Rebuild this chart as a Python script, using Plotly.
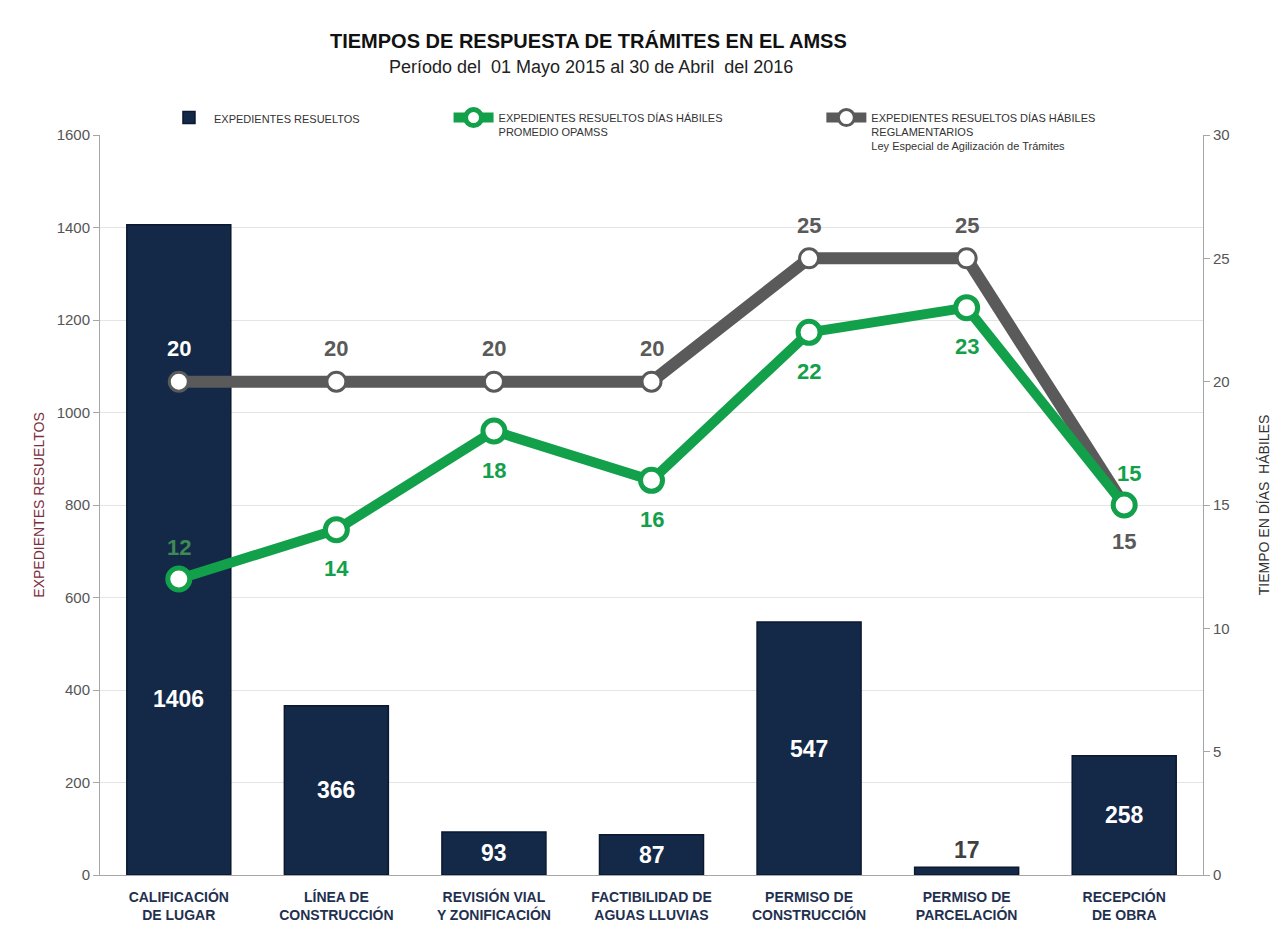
import plotly.graph_objects as go

# Data
categories = [
    "CALIFICACIÓN<br>DE LUGAR",
    "LÍNEA DE<br>CONSTRUCCIÓN",
    "REVISIÓN VIAL<br>Y ZONIFICACIÓN",
    "FACTIBILIDAD DE<br>AGUAS LLUVIAS",
    "PERMISO DE<br>CONSTRUCCIÓN",
    "PERMISO DE<br>PARCELACIÓN",
    "RECEPCIÓN<br>DE OBRA",
]
expedientes = [1406, 366, 93, 87, 547, 17, 258]
dias_opamss = [12, 14, 18, 16, 22, 23, 15]
dias_reglamentarios = [20, 20, 20, 20, 25, 25, 15]

# label placement (above = True / below = False)
opamss_above = [True, False, False, False, False, False, True]
regl_above = [True, True, True, True, True, True, False]

FONT = "Liberation Sans Narrow, Arial Narrow, Liberation Sans, Arial"
NAVY = "#142848"
GREEN = "#12A04A"
GRAY = "#5A5A5A"

fig = go.Figure()

fig.add_trace(go.Bar(
    x=categories, y=expedientes, name="EXPEDIENTES RESUELTOS",
    marker=dict(color=NAVY, line=dict(color="#0B1830", width=1.5)),
    width=0.66, legend="legend", showlegend=True,
))

fig.add_trace(go.Scatter(
    x=categories, y=dias_reglamentarios, yaxis="y2", mode="lines+markers",
    name="EXPEDIENTES RESUELTOS DÍAS HÁBILES<br>REGLAMENTARIOS<br>Ley Especial de Agilización de Trámites",
    line=dict(color=GRAY, width=12),
    marker=dict(size=19, color="white", line=dict(color=GRAY, width=3)),
    legend="legend3", showlegend=True,
))

fig.add_trace(go.Scatter(
    x=categories, y=dias_opamss, yaxis="y2", mode="lines+markers",
    name="EXPEDIENTES RESUELTOS DÍAS HÁBILES<br>PROMEDIO OPAMSS",
    line=dict(color=GREEN, width=10),
    marker=dict(size=22, color="white", line=dict(color=GREEN, width=5)),
    legend="legend2", showlegend=True,
))

annotations = []

# bar value labels
for i, (c, v) in enumerate(zip(categories, expedientes)):
    if v < 40:
        annotations.append(dict(x=c, y=v, xref="x", yref="y", text=f"<b>{v}</b>",
                                showarrow=False, yanchor="bottom", yshift=2,
                                font=dict(family=FONT, size=23, color="#404040")))
    else:
        ypos = v / 2 if v < 1000 else v * 0.27
        annotations.append(dict(x=c, y=ypos, xref="x", yref="y", text=f"<b>{v}</b>",
                                showarrow=False,
                                font=dict(family=FONT, size=23, color="white")))

# line value labels
for i, (c, v) in enumerate(zip(categories, dias_reglamentarios)):
    col = "white" if i == 0 else GRAY
    annotations.append(dict(x=c, y=v, xref="x", yref="y2", text=f"<b>{v}</b>",
                            showarrow=False, yshift=33 if regl_above[i] else -36,
                            font=dict(family=FONT, size=22, color=col)))

for i, (c, v) in enumerate(zip(categories, dias_opamss)):
    col = "#3E8A55" if i == 0 else GREEN
    annotations.append(dict(x=c, y=v, xref="x", yref="y2", text=f"<b>{v}</b>",
                            showarrow=False, yshift=32 if opamss_above[i] else -39,
                            xshift=5 if i == len(categories) - 1 else 0,
                            font=dict(family=FONT, size=22, color=col)))

# titles
annotations.append(dict(x=0.443, y=1.145, xref="paper", yref="paper",
                        text="<b>TIEMPOS DE RESPUESTA DE TRÁMITES EN EL AMSS</b>",
                        showarrow=False, font=dict(family=FONT, size=20, color="#111111")))
annotations.append(dict(x=0.445, y=1.108, xref="paper", yref="paper",
                        text="Período del  01 Mayo 2015 al 30 de Abril  del 2016",
                        showarrow=False, font=dict(family=FONT, size=18, color="#222222")))

legend_base = dict(orientation="h", xanchor="left", yanchor="top", valign="top",
                   bgcolor="rgba(0,0,0,0)", itemwidth=40,
                   font=dict(family=FONT, size=11, color="#333333"))

fig.update_layout(
    width=1281, height=930,
    margin=dict(l=92, r=86, t=127, b=63),
    paper_bgcolor="white", plot_bgcolor="white",
    font=dict(family=FONT),
    showlegend=True,
    bargap=0.34,
    annotations=annotations,
    legend=dict(legend_base, x=0.058, y=1.042),
    legend2=dict(legend_base, x=0.316, y=1.042),
    legend3=dict(legend_base, x=0.654, y=1.042),
    xaxis=dict(
        showline=True, linecolor="#A6A6A6", linewidth=1,
        tickfont=dict(family="Liberation Sans, Arial", size=14, color="#1F3050", weight="bold"),
        ticks="", showgrid=False, ticklabelstandoff=9,
    ),
    yaxis=dict(
        range=[0, 1600], dtick=200,
        showline=True, linecolor="#A6A6A6", linewidth=1,
        gridcolor="#E4E4E4", zeroline=False,
        ticks="outside", ticklen=6, tickcolor="#A6A6A6",
        tickfont=dict(family=FONT, size=15, color="#555555"),
        title=dict(text="EXPEDIENTES RESUELTOS", standoff=8,
                   font=dict(family=FONT, size=14, color="#7A2E3E")),
    ),
    yaxis2=dict(
        range=[0, 30], dtick=5, overlaying="y", side="right",
        showline=True, linecolor="#A6A6A6", linewidth=1,
        showgrid=False, zeroline=False,
        ticks="outside", ticklen=6, tickcolor="#A6A6A6",
        tickfont=dict(family=FONT, size=15, color="#555555"),
        title=dict(text="TIEMPO EN DÍAS  HÁBILES", standoff=30,
                   font=dict(family=FONT, size=14, color="#333333")),
    ),
)

fig.write_html("out.html")
